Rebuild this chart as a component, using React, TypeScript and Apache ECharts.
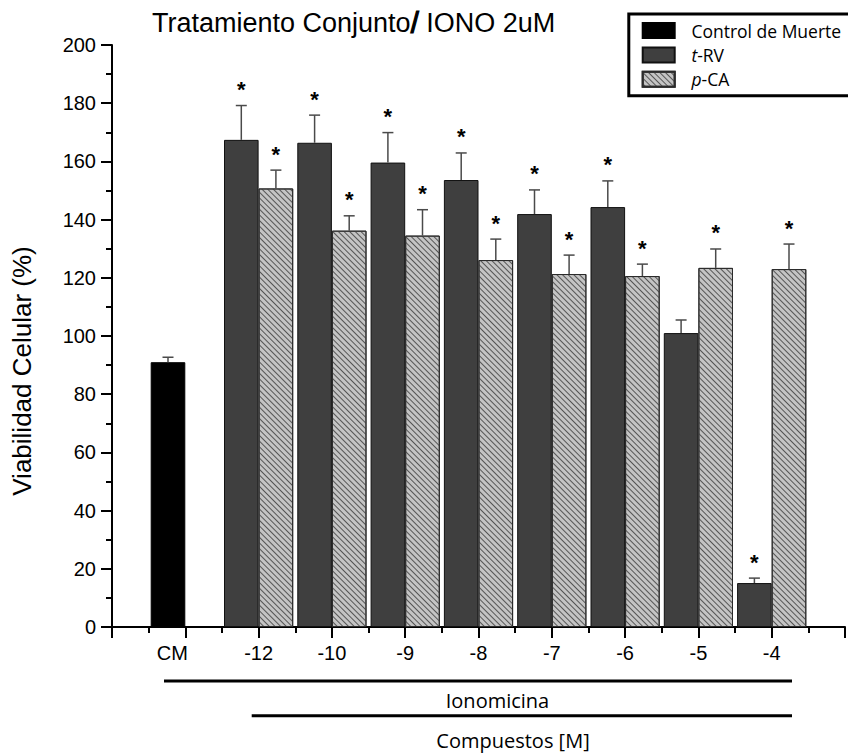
import React, { useEffect, useRef } from 'react';
import * as echarts from 'echarts';

// Category slots along the x axis (blank slots pad both ends of the axis)
const CATEGORIES = ['', 'CM', '-12', '-10', '-9', '-8', '-7', '-6', '-5', '-4', ''];
const CONTROL_CATEGORY = 'CM';
const CONTROL_VALUE = [91.0];
const CONTROL_ERR = [1.7];

const DOSES = ['-12', '-10', '-9', '-8', '-7', '-6', '-5', '-4'];
const TRV_VALUES = [167.4, 166.4, 159.6, 153.6, 141.9, 144.3, 101.0, 15.1];
const TRV_ERR = [11.8, 9.5, 10.3, 9.3, 8.3, 9.0, 4.5, 1.7];
const TRV_SIG = [1, 1, 1, 1, 1, 1, 0, 1];
const PCA_VALUES = [150.7, 136.2, 134.5, 126.1, 121.3, 120.6, 123.4, 123.0];
const PCA_ERR = [6.3, 5.1, 8.9, 7.2, 6.5, 4.1, 6.5, 8.6];
const PCA_SIG = [1, 1, 1, 1, 1, 1, 1, 1];

const SERIES_NAMES = ['Control de Muerte', 't-RV', 'p-CA'];
const Y_MIN = 0;
const Y_MAX = 200;
const Y_STEP = 20;

const TITLE = 'Tratamiento Conjunto';
const TITLE_TAIL = ' IONO 2uM';
const Y_NAME = 'Viabilidad Celular (%)';
const GROUP_LABEL_1 = 'Ionomicina';
const GROUP_LABEL_2 = 'Compuestos [M]';

const BAR_W = 34.6;
const CAP_W = 11;
const ERR_COLOR = '#4a4a4a';
const ARIAL = '"Liberation Sans", Arial, sans-serif';
const CALIBRI = '"Open Sans", "Noto Sans", sans-serif';

export default function App() {
  const ref = useRef<HTMLDivElement>(null);

  useEffect(() => {
    if (!ref.current) return;
    const chart = echarts.init(ref.current, undefined, { renderer: 'svg' });

    const ctrlIdx = CATEGORIES.indexOf(CONTROL_CATEGORY);
    const doseIdx = DOSES.map((d) => CATEGORIES.indexOf(d));
    const pick = (values: number[]) =>
      CATEGORIES.map((_, i) => {
        const k = doseIdx.indexOf(i);
        return k >= 0 ? values[k] : '-';
      });
    const controlData = CATEGORIES.map((_, i) => (i === ctrlIdx ? CONTROL_VALUE[0] : '-'));
    const trvData = pick(TRV_VALUES);
    const pcaData = pick(PCA_VALUES);

    // [category index, value, error, slot side (-1 left, 1 right), significant]
    const errData = [
      [ctrlIdx, CONTROL_VALUE[0], CONTROL_ERR[0], -1, 0],
      ...DOSES.map((_, k) => [doseIdx[k], TRV_VALUES[k], TRV_ERR[k], -1, TRV_SIG[k]]),
      ...DOSES.map((_, k) => [doseIdx[k], PCA_VALUES[k], PCA_ERR[k], 1, PCA_SIG[k]]),
    ];

    const option: any = {
      animation: false,
      backgroundColor: '#ffffff',
      grid: { left: 112, right: -7, top: 45, bottom: 128, containLabel: false },
      legend: {
        data: SERIES_NAMES,
        orient: 'vertical',
        left: 628.8,
        top: 14,
        padding: [7.6, 40, 7.6, 12.9],
        borderColor: '#000',
        borderWidth: 3,
        backgroundColor: '#fff',
        icon: 'rect',
        itemWidth: 32,
        itemHeight: 15,
        itemGap: 6.3,
        formatter: (name: string) =>
          name === 't-RV' ? '{it|t}-RV' : name === 'p-CA' ? '{it|p}-CA' : name,
        textStyle: {
          fontFamily: CALIBRI,
          fontSize: 17.5,
          lineHeight: 18,
          color: '#000',
          padding: [0, 0, 0, 11.7],
          rich: {
            it: { fontFamily: CALIBRI, fontSize: 17.5, lineHeight: 18, fontStyle: 'italic', color: '#000' },
          },
        },
      },
      xAxis: [
        {
          type: 'category',
          data: CATEGORIES,
          boundaryGap: false,
          position: 'bottom',
          axisLine: { show: true, lineStyle: { color: '#000', width: 2 } },
          axisTick: { show: false },
          splitLine: { show: false },
          axisLabel: {
            interval: 0,
            margin: 16,
            color: '#000',
            fontFamily: ARIAL,
            fontSize: 20,
            formatter: (v: string) => (v === CONTROL_CATEGORY ? `{cm|${v}}` : v),
            rich: { cm: { fontFamily: ARIAL, fontSize: 20, color: '#000', padding: [0, 26, 0, 0] } },
          },
        },
        {
          type: 'value',
          min: 0,
          max: CATEGORIES.length - 1,
          interval: 1,
          position: 'bottom',
          axisLine: { show: false },
          axisTick: { show: true, length: 11, lineStyle: { color: '#000', width: 2 } },
          minorTick: { show: true, splitNumber: 2, length: 6, lineStyle: { color: '#000', width: 2 } },
          axisLabel: { show: false },
          splitLine: { show: false },
        },
      ],
      yAxis: {
        type: 'value',
        min: Y_MIN,
        max: Y_MAX,
        interval: Y_STEP,
        axisLine: { show: true, lineStyle: { color: '#000', width: 2 } },
        axisTick: { show: true, length: 11, lineStyle: { color: '#000', width: 2 } },
        minorTick: { show: true, splitNumber: 2, length: 6, lineStyle: { color: '#000', width: 2 } },
        splitLine: { show: false },
        axisLabel: { margin: 16, color: '#000', fontFamily: ARIAL, fontSize: 20 },
      },
      series: [
        {
          name: SERIES_NAMES[0],
          type: 'bar',
          stack: 'left',
          xAxisIndex: 0,
          barWidth: BAR_W,
          data: controlData,
          itemStyle: { color: '#000000', borderColor: '#000', borderWidth: 1 },
        },
        {
          name: SERIES_NAMES[1],
          type: 'bar',
          stack: 'left',
          xAxisIndex: 0,
          barWidth: BAR_W,
          data: trvData,
          itemStyle: { color: '#3f3f3f', borderColor: '#111', borderWidth: 1 },
        },
        {
          name: SERIES_NAMES[2],
          type: 'bar',
          xAxisIndex: 0,
          barWidth: BAR_W,
          barGap: 0,
          data: pcaData,
          itemStyle: {
            color: '#c4c4c4',
            borderColor: '#2b2b2b',
            borderWidth: 1,
            decal: {
              symbol: 'rect',
              symbolSize: 1,
              dashArrayX: [1, 0],
              dashArrayY: [1, 3],
              rotation: Math.PI / 4,
              color: '#555555',
            },
          },
        },
        {
          type: 'custom',
          xAxisIndex: 0,
          z: 5,
          data: errData,
          encode: { x: 0, y: 1 },
          renderItem: (_params: any, api: any) => {
            const idx = api.value(0);
            const val = api.value(1);
            const err = api.value(2);
            const side = api.value(3);
            const sig = api.value(4);
            const top = api.coord([idx, val]);
            const cap = api.coord([idx, val + err]);
            const x = top[0] + (side * BAR_W) / 2;
            const children: any[] = [
              { type: 'line', shape: { x1: x, y1: top[1], x2: x, y2: cap[1] }, style: { stroke: ERR_COLOR, lineWidth: 1.5 } },
              { type: 'line', shape: { x1: x - CAP_W / 2, y1: cap[1], x2: x + CAP_W / 2, y2: cap[1] }, style: { stroke: ERR_COLOR, lineWidth: 1.5 } },
            ];
            if (sig) {
              children.push({
                type: 'text',
                style: {
                  text: '*',
                  x,
                  y: cap[1] - 16,
                  align: 'center',
                  verticalAlign: 'middle',
                  textAlign: 'center',
                  textVerticalAlign: 'middle',
                  font: `bold 22px ${ARIAL}`,
                  fill: '#000',
                },
              });
            }
            return { type: 'group', children };
          },
        },
      ],
      graphic: [
        {
          type: 'text',
          left: 152,
          top: 8,
          style: {
            text: `${TITLE}{s|/}${TITLE_TAIL}`,
            font: `27px ${ARIAL}`,
            fill: '#000',
            rich: { s: { fontFamily: ARIAL, fontSize: 29, fill: '#000', stroke: '#000', lineWidth: 1.2 } },
          },
        },
        {
          type: 'text',
          x: 22,
          y: 371,
          rotation: Math.PI / 2,
          style: { text: Y_NAME, font: `26px ${ARIAL}`, fill: '#000', align: 'center', verticalAlign: 'middle' },
        },
        { type: 'line', shape: { x1: 164, y1: 681, x2: 792, y2: 681 }, style: { stroke: '#000', lineWidth: 3 } },
        { type: 'line', shape: { x1: 251.7, y1: 715.7, x2: 792, y2: 715.7 }, style: { stroke: '#000', lineWidth: 3 } },
        {
          type: 'text',
          x: 497.5,
          y: 700,
          style: { text: GROUP_LABEL_1, font: `20px ${CALIBRI}`, fill: '#000', align: 'center', verticalAlign: 'middle' },
        },
        {
          type: 'text',
          x: 513,
          y: 740,
          style: { text: GROUP_LABEL_2, font: `20px ${CALIBRI}`, fill: '#000', align: 'center', verticalAlign: 'middle' },
        },
      ],
    };

    chart.setOption(option);
    return () => chart.dispose();
  }, []);

  return <div ref={ref} style={{ position: 'fixed', left: 0, top: 0, width: 848, height: 755 }} />;
}
